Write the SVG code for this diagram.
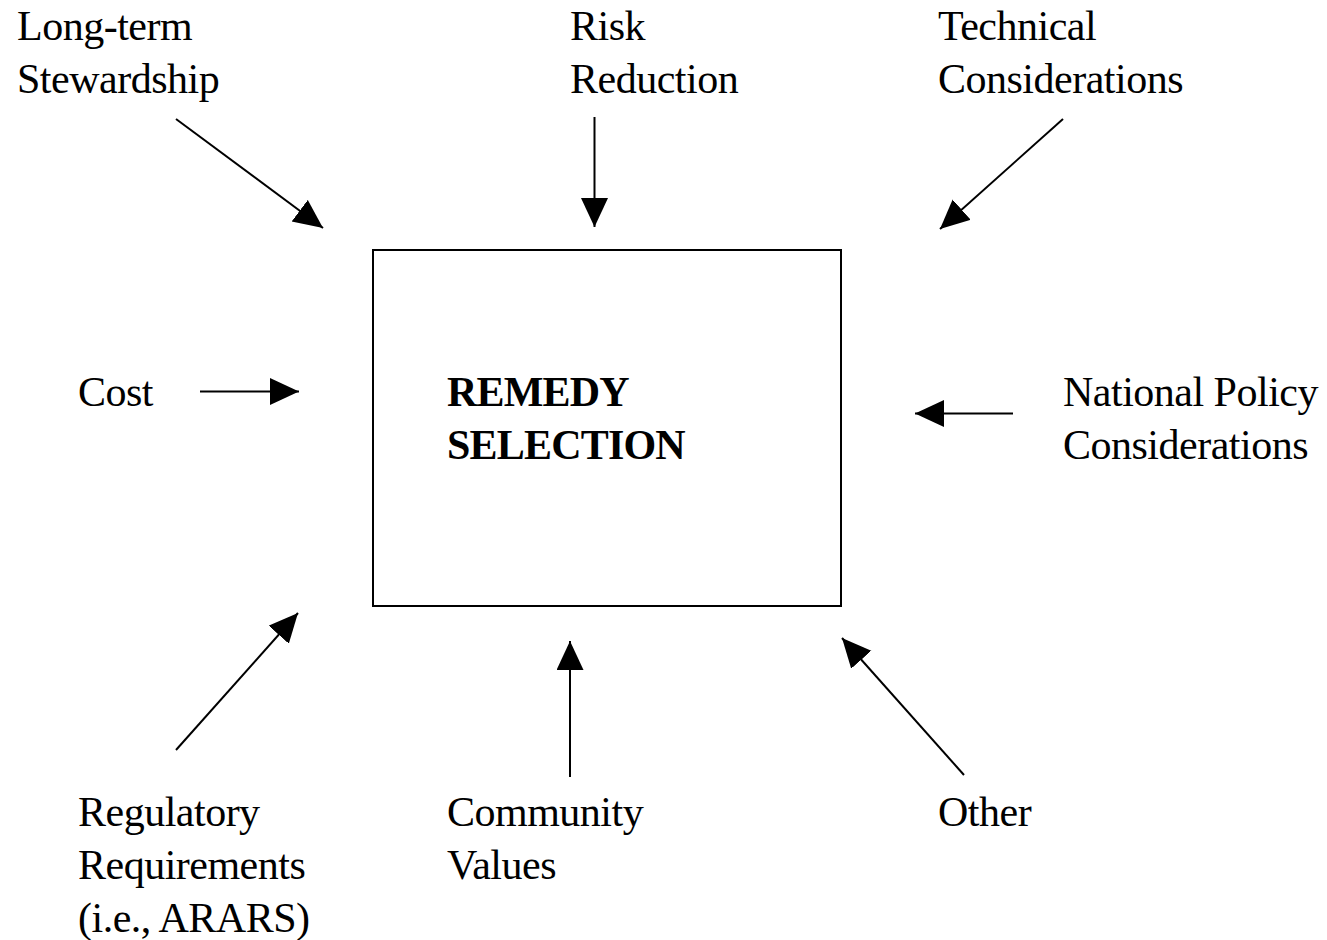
<svg xmlns="http://www.w3.org/2000/svg" width="1327" height="940" viewBox="0 0 1327 940">
<style>
text{font-family:"Liberation Serif","Times New Roman",serif;font-size:42px;fill:#000;letter-spacing:-0.5px}
.b{font-weight:bold;letter-spacing:-0.8px}
.c line{stroke:#000;stroke-width:2;marker-end:url(#ah)}
</style>
<defs>
<marker id="ah" markerUnits="userSpaceOnUse" markerWidth="30" markerHeight="28" refX="29" refY="13.5" orient="auto" viewBox="0 0 30 28">
<path d="M0,0 L29,13.5 L0,27 Z" fill="#000"/>
</marker>
</defs>
<rect width="1327" height="940" fill="#fff"/>
<g id="remedy">
<rect x="373" y="250" width="468" height="356" fill="none" stroke="#000" stroke-width="2"/>
<text class="b" x="447" y="406">REMEDY</text>
<text class="b" x="447" y="459">SELECTION</text>
</g>
<g id="longterm"><text x="17" y="40">Long-term</text><text x="17" y="93">Stewardship</text></g>
<g id="risk"><text x="570" y="40">Risk</text><text x="570" y="93">Reduction</text></g>
<g id="technical"><text x="938" y="40">Technical</text><text x="938" y="93">Considerations</text></g>
<g id="cost"><text x="78" y="406">Cost</text></g>
<g id="national"><text x="1063" y="406">National Policy</text><text x="1063" y="459">Considerations</text></g>
<g id="regulatory"><text x="78" y="826">Regulatory</text><text x="78" y="879">Requirements</text><text x="78" y="932">(i.e., ARARS)</text></g>
<g id="community"><text x="447" y="826">Community</text><text x="447" y="879">Values</text></g>
<g id="other"><text x="938" y="826">Other</text></g>
<g id="connectors" class="c">
<line x1="176" y1="119" x2="323" y2="228"/>
<line x1="594.5" y1="117" x2="594.5" y2="227"/>
<line x1="1063" y1="119" x2="940" y2="229"/>
<line x1="200" y1="391.5" x2="299" y2="391.5"/>
<line x1="1013" y1="413.5" x2="915" y2="413.5"/>
<line x1="176" y1="750" x2="298" y2="613"/>
<line x1="570" y1="777" x2="570" y2="641"/>
<line x1="964" y1="775" x2="842" y2="638"/>
</g>
</svg>
